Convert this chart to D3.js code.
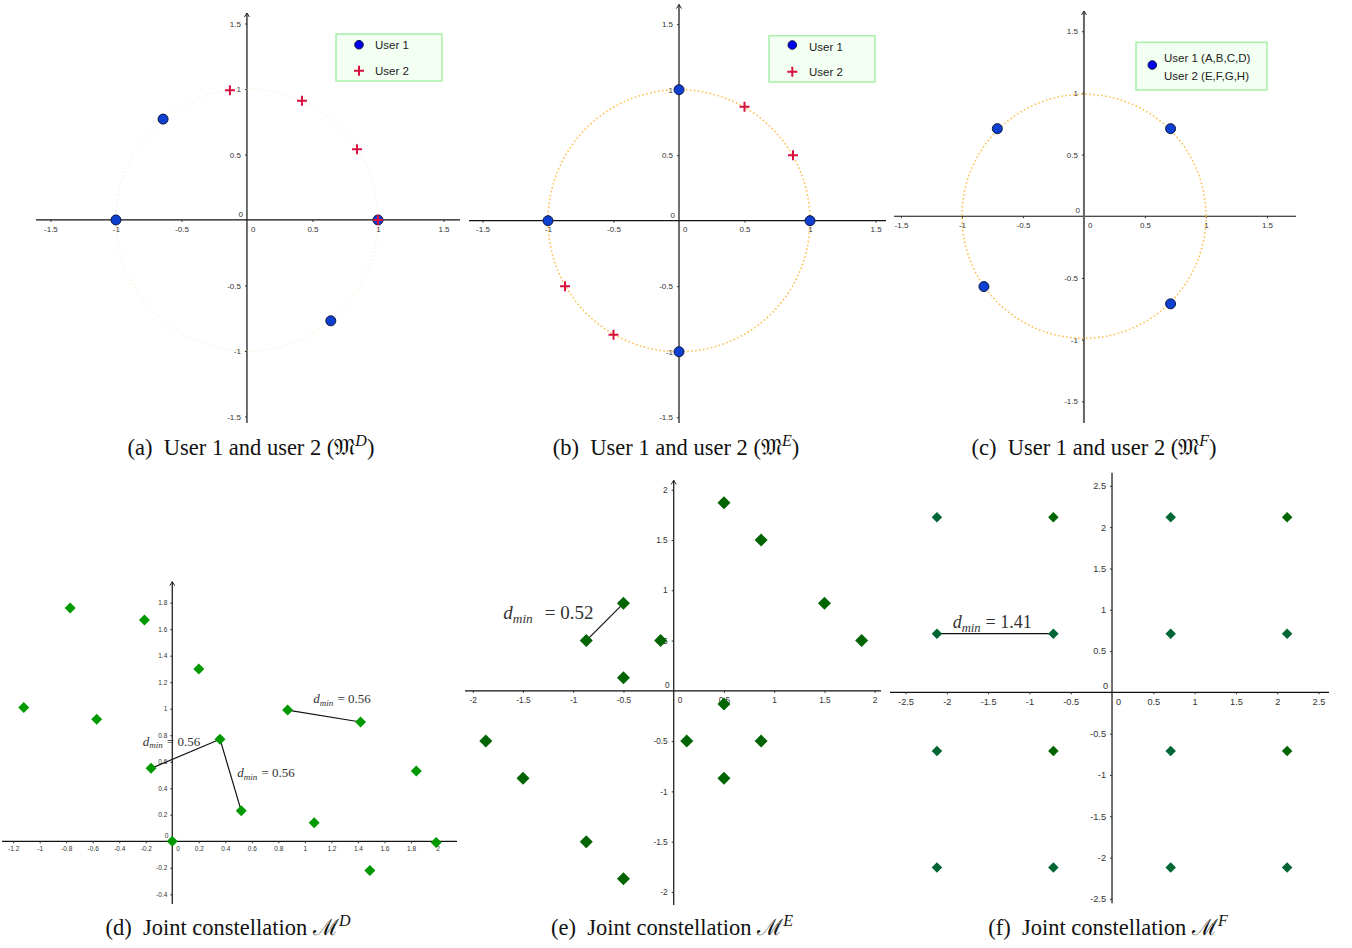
<!DOCTYPE html>
<html>
<head>
<meta charset="utf-8">
<script src="https://cdn.jsdelivr.net/npm/d3@7"></script>
<style>
  body { margin: 0; background: #fff; }
  svg { display: block; }
</style>
</head>
<body>
<script>
// --- data ---
var ticksUnit = [-1.5, -1, -0.5, 0.5, 1, 1.5];
var ticksD_x = [-1.2, -1, -0.8, -0.6, -0.4, -0.2, 0.2, 0.4, 0.6, 0.8, 1, 1.2, 1.4, 1.6, 1.8, 2];
var ticksD_y = [-0.4, -0.2, 0.2, 0.4, 0.6, 0.8, 1, 1.2, 1.4, 1.6, 1.8];
var ticksE = [-2, -1.5, -1, -0.5, 0.5, 1, 1.5, 2];
var ticksF = [-2.5, -2, -1.5, -1, -0.5, 0.5, 1, 1.5, 2, 2.5];

var aUser1 = [[1, 0], [-0.64, 0.77], [-1, 0], [0.64, -0.77]];
var aUser2 = [[1, 0], [-0.13, 0.99], [0.42, 0.91], [0.84, 0.54]];
var bUser1 = [[1, 0], [0, 1], [-1, 0], [0, -1]];
var bUser2 = [[0.5, 0.87], [0.87, 0.5], [-0.87, -0.5], [-0.5, -0.87]];
var cUsers = [[0.71, 0.71], [-0.71, 0.71], [-0.82, -0.57], [0.71, -0.71]];

var dPoints = [[-0.77, 1.76], [-0.21, 1.67], [0.2, 1.3], [-1.12, 1.01], [-0.57, 0.92],
  [0.87, 0.99], [1.42, 0.9], [0.36, 0.77], [-0.16, 0.55], [1.84, 0.53],
  [0.52, 0.23], [1.07, 0.14], [0, 0], [1.99, -0.01], [1.49, -0.22]];
var dLinks = [[[0.87, 0.99], [1.42, 0.9]], [[-0.16, 0.55], [0.36, 0.77]], [[0.36, 0.77], [0.52, 0.23]]];
var dLabels = ['0.56', '0.56', '0.56'];

var ePoints = [[0.5, 1.87], [0.87, 1.5], [1.5, 0.87], [1.87, 0.5], [-0.5, 0.87], [-0.87, 0.5],
  [-0.13, 0.5], [-0.5, 0.13], [0.5, -0.13], [0.13, -0.5], [0.87, -0.5], [0.5, -0.87],
  [-1.87, -0.5], [-1.5, -0.87], [-0.87, -1.5], [-0.5, -1.87]];
var eLinks = [[[-0.87, 0.5], [-0.5, 0.87]]];
var eLabels = ['0.52'];

var fPointsA = [[-2.12, 2.12], [0.71, 2.12], [-2.12, 0.71], [-0.71, 0.71], [0.71, 0.71], [2.12, 0.71],
  [-2.12, -0.71], [0.71, -0.71], [-2.12, -2.12], [-0.71, -2.12], [0.71, -2.12], [2.12, -2.12]];
var fPointsB = [[-0.71, 2.12], [2.12, 2.12], [-0.71, -0.71], [2.12, -0.71]];
var fLinks = [[[-2.12, 0.71], [-0.71, 0.71]]];
var fLabels = ['1.41'];

var svg = d3.select('body').append('svg')
  .attr('width', 1352)
  .attr('height', 948);

var SANS = '"Liberation Sans", Arial, sans-serif';
var SERIF = '"Liberation Serif", "Times New Roman", serif';

function makePanel(p) {
  var x = d3.scaleLinear().domain(p.xDomain).range(p.xRange);
  var y = d3.scaleLinear().domain(p.yDomain).range(p.yRange);
  var g = svg.append('g');

  // axis lines
  g.append('line')
    .attr('x1', p.xRange[0]).attr('x2', p.xRange[1])
    .attr('y1', y(0)).attr('y2', y(0))
    .attr('stroke', '#111').attr('stroke-width', 1.2);
  g.append('line')
    .attr('x1', x(0)).attr('x2', x(0))
    .attr('y1', p.yRange[0]).attr('y2', p.yRange[1])
    .attr('stroke', p.yAxisColor || '#222').attr('stroke-width', p.yAxisWidth || 1.3);
  if (p.arrow) {
    g.append('path')
      .attr('d', 'M' + (x(0) - 2.5) + ',' + (p.yRange[1] + 4) + 'L' + x(0) + ',' + p.yRange[1] + 'L' + (x(0) + 2.5) + ',' + (p.yRange[1] + 4))
      .attr('fill', 'none').attr('stroke', '#222').attr('stroke-width', 1);
  }

  var xAxis = d3.axisBottom(x)
    .tickValues(p.xTicks)
    .tickSize(2)
    .tickPadding(p.pad)
    .tickFormat(function(d) { return String(d); });
  var yAxis = d3.axisLeft(y)
    .tickValues(p.yTicks)
    .tickSize(2)
    .tickPadding(p.pad)
    .tickFormat(function(d) { return String(d); });

  var gx = g.append('g').attr('transform', 'translate(0,' + y(0) + ')').call(xAxis);
  var gy = g.append('g').attr('transform', 'translate(' + x(0) + ',0)').call(yAxis);
  [gx, gy].forEach(function(ax) {
    ax.select('.domain').remove();
    ax.attr('font-family', SANS).attr('font-size', p.tickFont);
    ax.selectAll('line').attr('stroke', '#333');
    ax.selectAll('text').attr('fill', '#333');
  });

  // the two zero labels at the origin
  g.append('text')
    .attr('x', x(0) - 4).attr('y', y(0) - 3)
    .attr('text-anchor', 'end')
    .attr('font-family', SANS).attr('font-size', p.tickFont).attr('fill', '#333')
    .text('0');
  g.append('text')
    .attr('x', x(0) + 4).attr('y', y(0) + p.pad + 2)
    .attr('dy', '0.71em')
    .attr('font-family', SANS).attr('font-size', p.tickFont).attr('fill', '#333')
    .text('0');

  return { g: g, x: x, y: y };
}

function unitCircle(P, color, width, dash) {
  P.g.append('circle')
    .attr('cx', P.x(0)).attr('cy', P.y(0))
    .attr('r', P.x(1) - P.x(0))
    .attr('fill', 'none')
    .attr('stroke', color)
    .attr('stroke-width', width)
    .attr('stroke-dasharray', dash);
}

function dots(P, data) {
  P.g.selectAll(null)
    .data(data)
    .enter().append('circle')
    .attr('cx', function(d) { return P.x(d[0]); })
    .attr('cy', function(d) { return P.y(d[1]); })
    .attr('r', 5)
    .attr('fill', '#0d3fd0')
    .attr('stroke', '#101840')
    .attr('stroke-width', 1);
}

function crosses(P, data) {
  P.g.selectAll(null)
    .data(data)
    .enter().append('path')
    .attr('transform', function(d) { return 'translate(' + P.x(d[0]) + ',' + P.y(d[1]) + ')'; })
    .attr('d', 'M-5,0H5M0,-5V5')
    .attr('stroke', '#d81040')
    .attr('stroke-width', 2)
    .attr('fill', 'none');
}

function links(P, data) {
  P.g.selectAll(null)
    .data(data)
    .enter().append('line')
    .attr('x1', function(d) { return P.x(d[0][0]); })
    .attr('y1', function(d) { return P.y(d[0][1]); })
    .attr('x2', function(d) { return P.x(d[1][0]); })
    .attr('y2', function(d) { return P.y(d[1][1]); })
    .attr('stroke', '#111')
    .attr('stroke-width', 1.2);
}

function diamonds(P, data, color, diag) {
  var sym = d3.symbol().type(d3.symbolSquare).size(diag * diag / 2);
  P.g.selectAll(null)
    .data(data)
    .enter().append('path')
    .attr('transform', function(d) { return 'translate(' + P.x(d[0]) + ',' + P.y(d[1]) + ') rotate(45)'; })
    .attr('d', sym)
    .attr('fill', color);
}

function dminLabels(P, values, anchors, size, gap) {
  values.forEach(function(v, i) {
    var t = P.g.append('text')
      .attr('x', P.x(anchors[i][0]))
      .attr('y', P.y(anchors[i][1]))
      .attr('font-family', SERIF)
      .attr('font-size', size)
      .attr('fill', '#333');
    t.append('tspan').attr('font-style', 'italic').text('d');
    t.append('tspan').attr('font-style', 'italic').attr('font-size', size * 0.7).attr('dy', size * 0.18).text('min');
    t.append('tspan').attr('dy', -size * 0.18).attr('dx', gap).text('= ' + v);
  });
}

// legend: box, then marker(s) and text on top
function legend(box, items) {
  var lg = svg.append('g');
  lg.append('rect')
    .attr('x', box[0]).attr('y', box[1]).attr('width', box[2]).attr('height', box[3])
    .attr('fill', '#f2fff2')
    .attr('stroke', '#a8f0a8')
    .attr('stroke-width', 1.5);
  items.forEach(function(it) {
    if (it.kind === 'dot') {
      lg.append('circle').attr('cx', it.mx).attr('cy', it.my).attr('r', 4.3)
        .attr('fill', '#0000f0').attr('stroke', '#101840').attr('stroke-width', 1);
    } else if (it.kind === 'cross') {
      lg.append('path').attr('transform', 'translate(' + it.mx + ',' + it.my + ')')
        .attr('d', 'M-5,0H5M0,-5V5').attr('stroke', '#d81040').attr('stroke-width', 2);
    }
    it.text.forEach(function(s, j) {
      lg.append('text')
        .attr('x', it.tx).attr('y', it.ty + j * 18)
        .attr('font-family', SANS).attr('font-size', 11.5).attr('fill', '#222')
        .text(s);
    });
  });
}

function caption(cx, y, label, body, letter, sup) {
  var t = svg.append('text')
    .attr('x', cx).attr('y', y)
    .attr('text-anchor', 'middle')
    .attr('font-family', SERIF)
    .attr('font-size', 22.5)
    .attr('fill', '#111')
    .attr('xml:space', 'preserve');
  t.append('tspan').text(label + '\u2002' + body);
  t.append('tspan').text(letter);
  t.append('tspan').attr('font-style', 'italic').attr('font-size', 16).attr('dy', -9).text(sup);
  if (body.indexOf('(') >= 0) t.append('tspan').attr('dy', 9).text(')');
}

// --- (a) ---
var A = makePanel({ xDomain: [-1.61, 1.626], xRange: [36, 460], yDomain: [-1.55, 1.58], yRange: [423, 13],
  xTicks: ticksUnit, yTicks: ticksUnit, pad: 4, tickFont: 8, arrow: true });
unitCircle(A, '#ffdcb0', 1, '1,3');
dots(A, aUser1);
crosses(A, aUser2);
legend([336, 34, 106, 47], [
  { kind: 'dot', mx: 359, my: 44.7, tx: 375, ty: 49, text: ['User 1'] },
  { kind: 'cross', mx: 359, my: 70.7, tx: 375, ty: 75, text: ['User 2'] }
]);

// --- (b) ---
var B = makePanel({ xDomain: [-1.603, 1.58], xRange: [469, 886], yDomain: [-1.544, 1.65], yRange: [423, 4.5],
  xTicks: ticksUnit, yTicks: ticksUnit, pad: 4, tickFont: 8, arrow: true });
unitCircle(B, '#ffbb44', 1.5, '1.5,2.5');
dots(B, bUser1);
crosses(B, bUser2);
legend([769, 35.7, 106, 46.3], [
  { kind: 'dot', mx: 792.3, my: 45, tx: 809, ty: 51, text: ['User 1'] },
  { kind: 'cross', mx: 792.3, my: 71.7, tx: 809, ty: 76, text: ['User 2'] }
]);

// --- (c) ---
var C = makePanel({ xDomain: [-1.557, 1.738], xRange: [894, 1296], yDomain: [-1.676, 1.664], yRange: [423, 11],
  xTicks: ticksUnit, yTicks: ticksUnit, pad: 4, tickFont: 8, arrow: true, yAxisColor: '#666', yAxisWidth: 2 });
unitCircle(C, '#ffbb44', 1.5, '1.5,2.5');
dots(C, cUsers);
legend([1136, 42.3, 131, 47.7], [
  { kind: 'dot', mx: 1152.3, my: 65, tx: 1164, ty: 62, text: ['User 1 (A,B,C,D)', 'User 2 (E,F,G,H)'] }
]);

// --- (d) ---
var D = makePanel({ xDomain: [-1.284, 2.147], xRange: [2, 457], yDomain: [-0.473, 1.958], yRange: [904, 581.7],
  xTicks: ticksD_x, yTicks: ticksD_y, pad: 3, tickFont: 6.5, arrow: true });
links(D, dLinks);
diamonds(D, dPoints, '#009900', 11);
dminLabels(D, dLabels, [[1.063, 1.04], [-0.223, 0.719], [0.49, 0.483]], 13, 4);

// --- (e) ---
var E = makePanel({ xDomain: [-2.077, 2.063], xRange: [465, 881], yDomain: [-2.13, 2.094], yRange: [905, 480.3],
  xTicks: ticksE, yTicks: ticksE, pad: 4, tickFont: 8.3, arrow: true });
links(E, eLinks);
diamonds(E, ePoints, '#006400', 13);
dminLabels(E, eLabels, [[-1.696, 0.713]], 19, 12);

// --- (f) ---
var F = makePanel({ xDomain: [-2.688, 2.627], xRange: [890, 1329], yDomain: [-2.554, 2.659], yRange: [903.3, 472.7],
  xTicks: ticksF, yTicks: ticksF, pad: 4, tickFont: 9.2, arrow: false });
links(F, fLinks);
diamonds(F, fPointsA, '#006633', 10.5);
diamonds(F, fPointsB, '#006400', 10.5);
dminLabels(F, fLabels, [[-1.929, 0.775]], 18, 5);

// --- captions ---
caption(251, 455, '(a)', 'User 1 and user 2 (', '\uD835\uDD10', 'D');
caption(676, 455, '(b)', 'User 1 and user 2 (', '\uD835\uDD10', 'E');
caption(1094, 455, '(c)', 'User 1 and user 2 (', '\uD835\uDD10', 'F');
caption(228, 935, '(d)', 'Joint constellation ', '\u2133', 'D');
caption(672, 935, '(e)', 'Joint constellation ', '\u2133', 'E');
caption(1108, 935, '(f)', 'Joint constellation ', '\u2133', 'F');
</script>
</body>
</html>
